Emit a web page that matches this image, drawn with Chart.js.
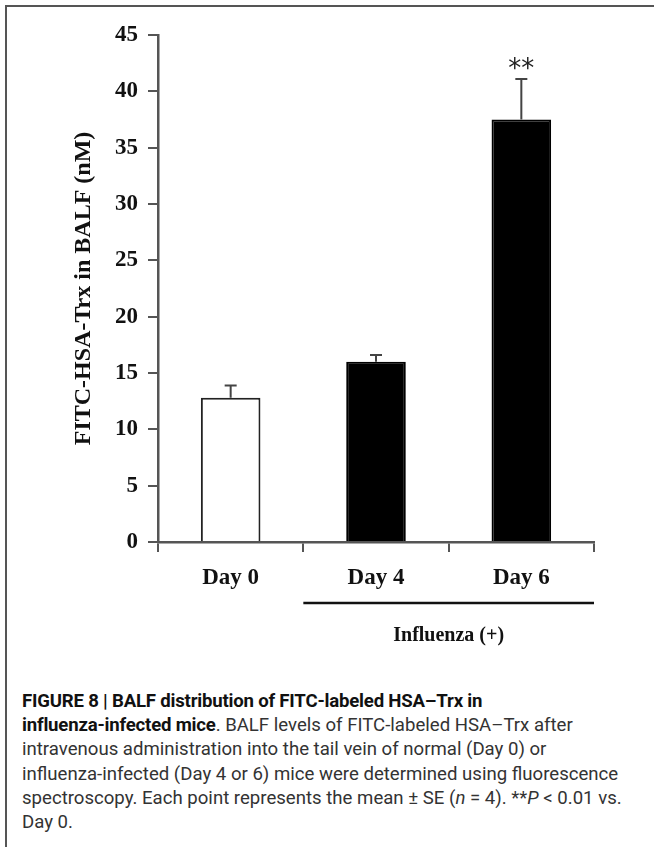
<!DOCTYPE html>
<html>
<head>
<meta charset="utf-8">
<script src="https://cdn.jsdelivr.net/npm/chart.js@4/dist/chart.umd.min.js"></script>
<style>
  html, body { margin: 0; padding: 0; background: #fff; }
  body { width: 654px; height: 847px; position: relative; overflow: hidden; }
  #frame { position: absolute; left: 5px; top: 5px; width: 720px; height: 900px;
           border-left: 2px solid #555; border-top: 2px solid #555; }
  #chartBox { position: absolute; left: 0; top: 0; width: 654px; height: 665px; }
  #caption { position: absolute; left: 22px; top: 689px; width: 625px;
             font-family: "Roboto", "Liberation Sans", sans-serif; font-size: 18.6px;
             line-height: 24.2px; color: #333; white-space: nowrap; }
  #caption b { color: #111; letter-spacing: -0.2px; }
</style>
</head>
<body>
<div id="frame"></div>
<div id="chartBox"><canvas id="barChart" width="654" height="665"></canvas></div>
<div id="caption">
  <b>FIGURE 8 | BALF distribution of FITC-labeled HSA–Trx in</b><br>
  <b>influenza-infected mice</b>. BALF levels of FITC-labeled HSA–Trx after<br>
  intravenous administration into the tail vein of normal (Day 0) or<br>
  influenza-infected (Day 4 or 6) mice were determined using fluorescence<br>
  spectroscopy. Each point represents the mean ± SE (<i>n</i> = 4). **<i>P</i> &lt; 0.01 vs.<br>
  Day 0.
</div>
<script>
// datos
const categories = ['Day 0', 'Day 4', 'Day 6'];
const meanValues = [12.8, 16.0, 37.5];
const seValues = [1.1, 0.6, 3.6];
const marks = ['', '', '**'];
const barFills = ['#ffffff', '#000000', '#000000'];
const groupLabel = 'Influenza (+)';
const yTitle = 'FITC-HSA-Trx in BALF (nM)';

const serif = '"Liberation Serif", "Times New Roman", serif';

// barras de error, asteriscos y la linea de "Influenza (+)"
const extras = {
  id: 'extras',
  afterDatasetsDraw(chart) {
    const ctx = chart.ctx;
    const x = chart.scales.x;
    const y = chart.scales.y;
    ctx.save();
    meanValues.forEach((v, i) => {
      const px = x.getPixelForValue(i);
      const yBar = y.getPixelForValue(v);
      const yTop = y.getPixelForValue(v + seValues[i]);
      ctx.strokeStyle = '#444';
      ctx.lineWidth = 2;
      ctx.beginPath();
      ctx.moveTo(px, yBar);
      ctx.lineTo(px, yTop);
      ctx.moveTo(px - 6, yTop);
      ctx.lineTo(px + 6, yTop);
      ctx.stroke();
      if (marks[i]) {
        ctx.fillStyle = '#222';
        ctx.font = '26px "DejaVu Sans", sans-serif';
        ctx.textAlign = 'center';
        ctx.textBaseline = 'alphabetic';
        ctx.fillText(marks[i], px, yTop - 2);
      }
    });

    // linea bajo Day 4 y Day 6
    const left = (x.getPixelForValue(0) + x.getPixelForValue(1)) / 2;
    const right = chart.chartArea.right;
    const lineY = chart.chartArea.bottom + 61;
    ctx.strokeStyle = '#111';
    ctx.lineWidth = 2.5;
    ctx.beginPath();
    ctx.moveTo(left, lineY);
    ctx.lineTo(right, lineY);
    ctx.stroke();

    ctx.fillStyle = '#111';
    ctx.font = 'bold 20px ' + serif;
    ctx.textAlign = 'center';
    ctx.textBaseline = 'middle';
    ctx.fillText(groupLabel, (left + right) / 2, chart.chartArea.bottom + 94);
    ctx.restore();
  }
};

var ctx = document.getElementById('barChart').getContext('2d');
var barChart = new Chart(ctx, {
  type: 'bar',
  data: {
    labels: categories,
    datasets: [{
      data: meanValues,
      backgroundColor: barFills,
      borderColor: ['#222', '#000', '#000'],
      borderWidth: 2,
      barPercentage: 0.41,
      categoryPercentage: 1.0
    }]
  },
  options: {
    responsive: false,
    animation: false,
    layout: { padding: { left: 0, right: 60, top: 35, bottom: 0 } },
    plugins: {
      legend: { display: false },
      tooltip: { enabled: false }
    },
    scales: {
      x: {
        afterFit: s => { s.height = 123; },
        grid: { display: true, offset: true, drawOnChartArea: false, drawTicks: true,
                tickLength: 10, color: '#555', lineWidth: 2 },
        border: { display: true, color: '#555', width: 2.5 },
        ticks: { color: '#111', padding: 12, font: { family: serif, size: 23, weight: 'bold' } }
      },
      y: {
        min: 0,
        max: 45,
        afterFit: s => { s.width = 158; },
        grid: { display: true, drawOnChartArea: false, drawTicks: true,
                tickLength: 10, color: '#555', lineWidth: 2 },
        border: { display: true, color: '#555', width: 2.5 },
        ticks: { stepSize: 5, color: '#111', padding: 10,
                 font: { family: serif, size: 23, weight: 'bold' } },
        title: { display: true, text: yTitle, color: '#111',
                 padding: { top: 69, bottom: 0 },
                 font: { family: serif, size: 24, weight: 'bold' } }
      }
    }
  },
  plugins: [extras]
});
</script>
</body>
</html>
